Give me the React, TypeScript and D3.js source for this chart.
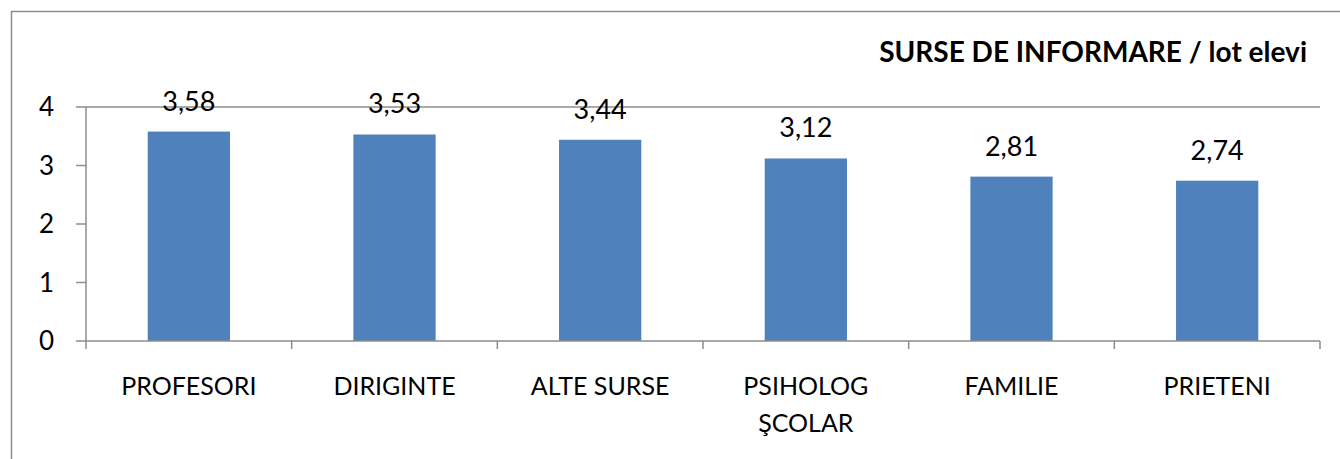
import { useEffect, useRef } from "react";
import { scaleBand, scaleLinear, select } from "d3";

const categories = ["PROFESORI", "DIRIGINTE", "ALTE SURSE", "PSIHOLOG\nŞCOLAR", "FAMILIE", "PRIETENI"];
const values = [3.58, 3.53, 3.44, 3.12, 2.81, 2.74];
const yTicks = [0, 1, 2, 3, 4];
const title = "SURSE DE INFORMARE / lot elevi";

const W = 1340;
const H = 459;
const FONT = "Lato, 'Open Sans', sans-serif";

export default function App() {
  const ref = useRef<SVGSVGElement>(null);

  useEffect(() => {
    if (!ref.current) return;
    const svg = select(ref.current);
    svg.selectAll("*").remove();

    const left = 86;
    const right = 1320;
    const top = 107;
    const bottom = 341;

    const x = scaleBand<string>().domain(categories).range([left, right]).paddingInner(0.6).paddingOuter(0.3);
    const xTicks = scaleBand<string>().domain(categories).range([left, right]);
    const y = scaleLinear().domain([0, 4]).range([bottom, top]);

    // chart frame
    svg.append("rect")
      .attr("x", 11.5).attr("y", 11.5)
      .attr("width", W + 20).attr("height", H + 20)
      .attr("fill", "white").attr("stroke", "#8c8c8c").attr("stroke-width", 1.5);

    // top gridline
    svg.append("line")
      .attr("x1", left).attr("x2", right)
      .attr("y1", y(4)).attr("y2", y(4))
      .attr("stroke", "#8c8c8c").attr("stroke-width", 1.5);

    // bars
    svg.append("g").selectAll("rect").data(values).join("rect")
      .attr("x", (_, i) => x(categories[i])!)
      .attr("width", x.bandwidth())
      .attr("y", (d) => y(d))
      .attr("height", (d) => bottom - y(d))
      .attr("fill", "#4F81BD");

    // value labels
    svg.append("g").selectAll("text").data(values).join("text")
      .attr("x", (_, i) => x(categories[i])! + x.bandwidth() / 2)
      .attr("y", (d) => y(d) - 21)
      .attr("text-anchor", "middle")
      .attr("font-family", FONT).attr("font-size", 27).attr("fill", "#000")
      .text((d) => d.toFixed(2).replace(".", ","));

    // axes
    const axis = svg.append("g").attr("stroke", "#8c8c8c").attr("stroke-width", 1.5);
    axis.append("line").attr("x1", left).attr("x2", left).attr("y1", top).attr("y2", bottom + 8);
    axis.append("line").attr("x1", left).attr("x2", right).attr("y1", bottom).attr("y2", bottom);
    axis.selectAll("line.yt").data(yTicks).join("line").attr("class", "yt")
      .attr("x1", left - 10).attr("x2", left)
      .attr("y1", (d) => y(d)).attr("y2", (d) => y(d));
    axis.selectAll("line.xt").data(categories).join("line").attr("class", "xt")
      .attr("x1", (d) => xTicks(d)! + xTicks.bandwidth())
      .attr("x2", (d) => xTicks(d)! + xTicks.bandwidth())
      .attr("y1", bottom).attr("y2", bottom + 8);

    svg.append("g").selectAll("text").data(yTicks).join("text")
      .attr("x", 54).attr("y", (d) => y(d) + 9)
      .attr("text-anchor", "end")
      .attr("font-family", FONT).attr("font-size", 26)
      .text((d) => d);

    // category labels
    const cat = svg.append("g").selectAll("text").data(categories).join("text")
      .attr("x", (d) => xTicks(d)! + xTicks.bandwidth() / 2)
      .attr("y", 395)
      .attr("text-anchor", "middle")
      .attr("font-family", FONT).attr("font-size", 25);
    cat.each(function (d) {
      const t = select(this);
      d.split("\n").forEach((line, i) => {
        t.append("tspan")
          .attr("x", xTicks(d)! + xTicks.bandwidth() / 2)
          .attr("dy", i === 0 ? 0 : 37)
          .text(line);
      });
    });

    // title
    svg.append("text")
      .attr("x", 1307).attr("y", 62)
      .attr("text-anchor", "end")
      .attr("font-family", FONT).attr("font-size", 28).attr("font-weight", "bold")
      .text(title);
  }, []);

  return (
    <svg
      ref={ref}
      width={W}
      height={H}
      style={{ position: "absolute", left: 0, top: 0, display: "block", background: "white" }}
    />
  );
}
